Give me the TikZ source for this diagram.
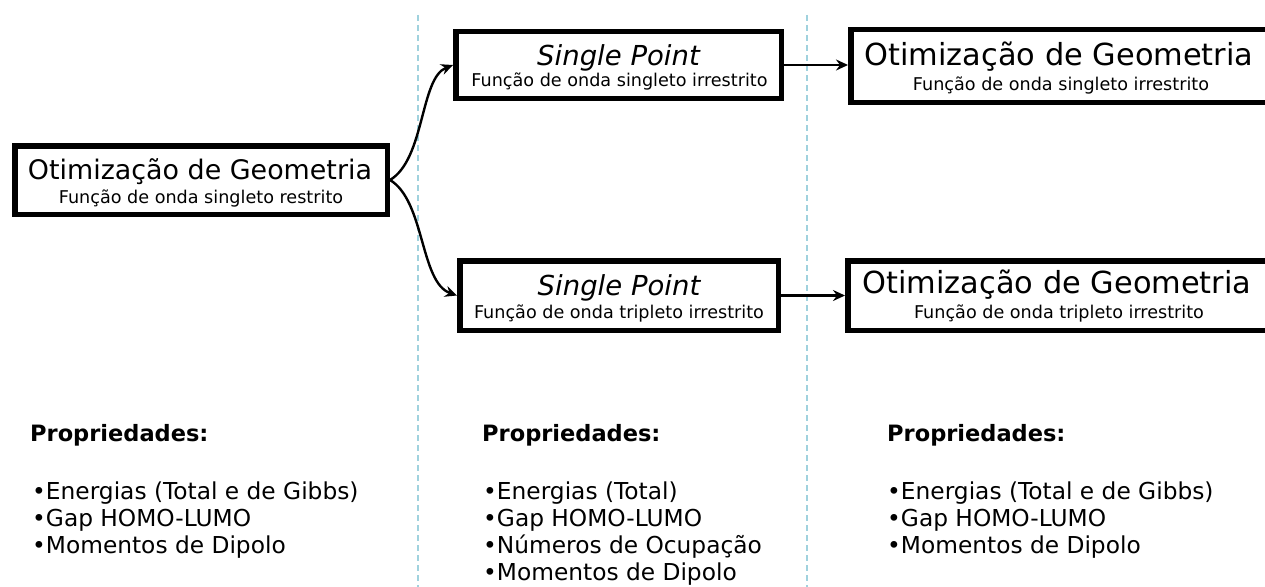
\documentclass[tikz,border=0pt]{standalone}
\usepackage{fontspec}
\setmainfont{DejaVu Sans}
\usetikzlibrary{arrows.meta}
\definecolor{guidecol}{RGB}{160,210,222}
\begin{document}
\begin{tikzpicture}[x=1pt,y=-1pt,
  box/.style={draw,line width=5.5pt,fill=white,inner sep=0pt},
  guide/.style={draw=guidecol,line width=1.2pt,dash pattern=on 6pt off 4pt},
  arr/.style={line width=2.4pt,-{Stealth[length=12pt,width=11pt,inset=4pt]}},
  ttl/.style={anchor=base,inner sep=0pt,font=\fontsize{26.9}{30}\selectfont},
  ttlc/.style={anchor=base,inner sep=0pt,font=\fontsize{30.4}{34}\selectfont},
  spt/.style={anchor=base,inner sep=0pt,font=\fontsize{27.5}{31}\selectfont\itshape},
  sub/.style={anchor=base,inner sep=0pt,font=\fontsize{17.6}{21}\selectfont},
  prop/.style={anchor=base west,inner sep=0pt,font=\fontsize{22.5}{27}\selectfont\bfseries},
  item/.style={anchor=base west,inner sep=0pt,font=\fontsize{23.3}{27}\selectfont}]
\useasboundingbox (0,0) rectangle (1265,586);
\clip (0,0) rectangle (1265,586);
\fill[white] (0,0) rectangle (1265,586);

% guide lines
\coordinate (g1t) at (418,15); \coordinate (g1b) at (418,590);
\coordinate (g2t) at (807,15); \coordinate (g2b) at (807,590);
\draw[guide] (g1t) -- (g1b);
\draw[guide] (g2t) -- (g2b);

% boxes
\node[box,minimum width=372.5pt,minimum height=68.5pt] (A) at (201,180) {};
\node[box,minimum width=325.5pt,minimum height=66.5pt] (B1) at (618.5,65) {};
\node[box,minimum width=318.5pt,minimum height=69.5pt] (B2) at (619,295.5) {};
\node[box,minimum width=416.5pt,minimum height=72.5pt] (C1) at (1059,66) {};
\node[box,minimum width=419.5pt,minimum height=69.5pt] (C2) at (1057.5,295.5) {};

% connectors
\draw[arr] (A.east) .. controls +(35,-21) and +(-33,13) .. (B1.west);
\draw[arr] (A.east) .. controls +(35,21) and +(-37,-13) .. (B2.west);
\draw[arr] (B1.east) -- (B1.east -| C1.west);
\draw[arr] (B2.east) -- (B2.east -| C2.west);

% box texts
\node[ttl] (At) at (200,179.5) {Otimização de Geometria};
\node[sub] (As) at (201,203.3) {Função de onda singleto restrito};
\node[spt] (B1t) at (618.5,65) {Single Point};
\node[sub] (B1s) at (619.5,86.7) {Função de onda singleto irrestrito};
\node[spt] (B2t) at (619,295) {Single Point};
\node[sub] (B2s) at (619,318.3) {Função de onda tripleto irrestrito};
\node[ttlc] (C1t) at (1059,65) {Otimização de Geometria};
\node[sub] (C1s) at (1061,90) {Função de onda singleto irrestrito};
\node[ttlc] (C2t) at (1057,293.3) {Otimização de Geometria};
\node[sub] (C2s) at (1059,318.3) {Função de onda tripleto irrestrito};

% properties, left
\node[prop] (P1) at (30,441.7) {Propriedades:};
\node[item] (P1a) at (32,499) {•Energias (Total e de Gibbs)};
\node[item] (P1b) at (32,526) {•Gap HOMO-LUMO};
\node[item] (P1c) at (32,553) {•Momentos de Dipolo};

% properties, middle
\node[prop] (P2) at (482,441.7) {Propriedades:};
\node[item] (P2a) at (483,499) {•Energias (Total)};
\node[item] (P2b) at (483,526) {•Gap HOMO-LUMO};
\node[item] (P2c) at (483,553) {•Números de Ocupação};
\node[item] (P2d) at (483,580) {•Momentos de Dipolo};

% properties, right
\node[prop] (P3) at (887,441.7) {Propriedades:};
\node[item] (P3a) at (887,499) {•Energias (Total e de Gibbs)};
\node[item] (P3b) at (887,526) {•Gap HOMO-LUMO};
\node[item] (P3c) at (887,553) {•Momentos de Dipolo};
\end{tikzpicture}
\end{document}
